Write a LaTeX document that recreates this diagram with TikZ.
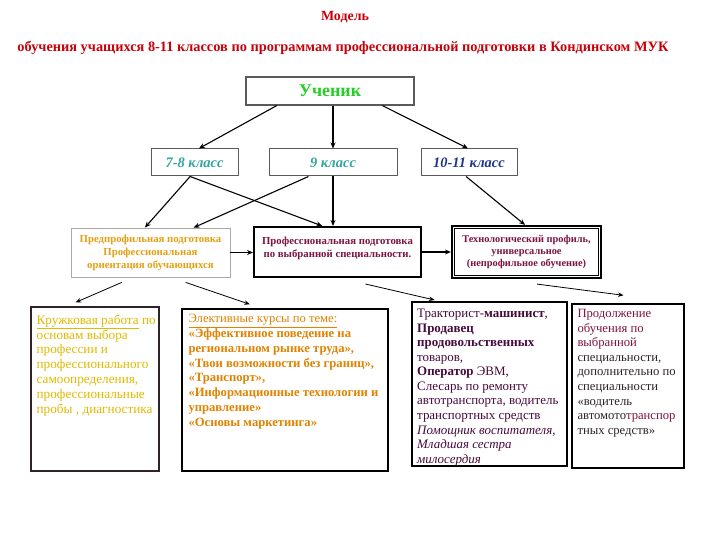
\documentclass[tikz,border=0pt]{standalone}
\usepackage{fontspec}
\setmainfont{Liberation Serif}
\usetikzlibrary{arrows.meta,calc}
\definecolor{titlered}{RGB}{200,0,10}
\definecolor{pupilgreen}{RGB}{40,205,40}
\definecolor{tealc}{RGB}{50,165,160}
\definecolor{darkblue}{RGB}{30,55,140}
\definecolor{goldc}{RGB}{228,160,20}
\definecolor{maroonc}{RGB}{125,20,65}
\definecolor{yellowc}{RGB}{225,185,0}
\definecolor{orangec}{RGB}{225,130,0}
\definecolor{purplec}{RGB}{70,10,60}
\definecolor{darkc}{RGB}{45,35,40}
\definecolor{grayline}{RGB}{90,90,90}
\definecolor{lightgrayline}{RGB}{170,170,170}
\begin{document}
\begin{tikzpicture}[x=1bp,y=-1bp,
  frame/.style={draw=#1, inner sep=0pt},
  arr/.style={-{Stealth[length=6bp,width=5bp]}, line width=1.1bp},
  arrthin/.style={-{Stealth[length=5.5bp,width=4.5bp]}, line width=0.8bp},
  bodytext/.style={anchor=north west, inner sep=0pt, align=left}
]
\useasboundingbox[fill=white] (0,0) rectangle (720,540);

% titles
\node[font=\bfseries\fontsize{14}{16}\selectfont, text=titlered] (title) at (345,17) {Модель};
\node[font=\bfseries\fontsize{14.4}{16}\selectfont, text=titlered] (subtitle) at (343,48)
  {обучения учащихся 8-11 классов по программам профессиональной подготовки в Кондинском МУК};

% level 1
\node[frame=grayline, line width=1.2bp, minimum width=168bp, minimum height=28bp,
  font=\bfseries\fontsize{18}{20}\selectfont, text=pupilgreen] (uc) at (330,91) {Ученик};

% level 2
\node[frame=grayline, line width=1bp, minimum width=87bp, minimum height=27bp,
  font=\bfseries\itshape\fontsize{14.5}{16}\selectfont, text=tealc] (n78) at (194.5,162.5) {7-8 класс};
\node[frame=grayline, line width=1bp, minimum width=128bp, minimum height=27bp,
  font=\bfseries\itshape\fontsize{14.5}{16}\selectfont, text=tealc] (n9) at (333,162.5) {9 класс};
\node[frame=grayline, line width=1bp, minimum width=96bp, minimum height=27bp,
  font=\bfseries\itshape\fontsize{14.5}{16}\selectfont, text=darkblue] (n1011) at (469,162.5) {10-11 класс};

% level 3
\node[frame=lightgrayline, line width=0.8bp, minimum width=159bp, minimum height=49bp] (pre) at (150.5,252.5) {};
\node[inner sep=0pt, align=center, font=\bfseries\fontsize{10.8}{13}\selectfont, text=goldc] (pret) at (pre.center)
  {Предпрофильная подготовка\\Профессиональная\\ориентация обучающихся};

\node[frame=black, line width=2bp, minimum width=167bp, minimum height=50bp] (prof) at (337.5,252) {};
\node[anchor=north, inner sep=0pt, align=center, font=\bfseries\fontsize{10.8}{13.5}\selectfont, text=maroonc] (proft)
  at ($(prof.north)+(0,10.5)$) {Профессиональная подготовка\\по выбранной специальности.};

\node[frame=black, line width=2.2bp, minimum width=149bp, minimum height=52bp] (tech) at (526.5,252) {};
\draw[line width=0.7bp] ($(tech.north west)+(3.5,3.5)$) rectangle ($(tech.south east)+(-3.5,-3.5)$);
\node[inner sep=0pt, align=center, font=\bfseries\fontsize{10.4}{12.5}\selectfont, text=maroonc] (techt) at (tech.center)
  {Технологический профиль,\\универсальное\\(непрофильное обучение)};

% level 4
\node[frame=darkc, line width=1.2bp, minimum width=128bp, minimum height=164bp] (kruz) at (95,389) {};
\node[bodytext, font=\fontsize{13.3}{15}\selectfont, text=yellowc] (kruzt) at ($(kruz.north west)+(6,8)$)
  {\underline{Кружковая работа} по\\основам выбора\\профессии и\\профессионального\\самоопределения,\\профессиональные\\пробы , диагностика};

\node[frame=black, line width=1.4bp, minimum width=206bp, minimum height=162bp] (elek) at (285,390) {};
\node[bodytext, font=\fontsize{12.7}{14.8}\selectfont, text=orangec] (elekt) at ($(elek.north west)+(7,6)$)
  {\underline{Элективные курсы по теме:}\\\bfseries «Эффективное поведение на\\\bfseries региональном рынке труда»,\\\bfseries «Твои возможности без границ»,\\\bfseries «Транспорт»,\\\bfseries «Информационные технологии и\\\bfseries управление»\\\bfseries «Основы маркетинга»};

\node[frame=black, line width=2bp, minimum width=155bp, minimum height=164bp] (trak) at (489.5,384) {};
\node[bodytext, font=\fontsize{13}{14.6}\selectfont, text=purplec] (trakt) at ($(trak.north west)+(6,8)$)
  {Тракторист-\textbf{машинист},\\\textbf{Продавец}\\\textbf{продовольственных}\\товаров,\\\textbf{Оператор} ЭВМ,\\Слесарь по ремонту\\автотранспорта, водитель\\транспортных средств\\\textit{Помощник воспитателя,}\\\textit{Младшая сестра}\\\textit{милосердия}};

\node[frame=black, line width=1.4bp, minimum width=112bp, minimum height=164bp] (prod) at (628,386) {};
\node[bodytext, font=\fontsize{12.7}{14.6}\selectfont, text=darkc] (prodt) at ($(prod.north west)+(6,6)$)
  {\textcolor{maroonc}{Продолжение}\\\textcolor{maroonc}{обучения по}\\\textcolor{maroonc}{выбранной}\\специальности,\\дополнительно по\\специальности\\«водитель\\автомото\textcolor{maroonc}{транспор}\\тных средств»};

% connectors level 1 -> 2
\draw[arr] ($(uc.south west)!0.185!(uc.south east)$) -- ($(n78.north west)!0.55!(n78.north east)$);
\draw[arr] (n9.north |- uc.south) -- (n9.north);
\draw[arr] ($(uc.south west)!0.81!(uc.south east)$) -- ($(n1011.north west)!0.49!(n1011.north east)$);

% connectors level 2 -> 3
\coordinate (a78) at ($(n78.south west)!0.45!(n78.south east)$);
\draw[arr] (a78) -- ($(pre.north west)!0.465!(pre.north east)$);
\draw[arr] (a78) -- ($(prof.north west)!0.41!(prof.north east)$);
\draw[arr] ($(n9.south west)!0.31!(n9.south east)$) -- ($(pre.north west)!0.77!(pre.north east)$);
\draw[arr] (n9.south) -- (n9.south |- prof.north);
\draw[arr] ($(n1011.south west)!0.47!(n1011.south east)$) -- ($(tech.north west)!0.49!(tech.north east)$);

% level 3 horizontal
\draw[arr, line width=1.6bp] (pre.east) -- (pre.east -| prof.west);
\draw[arr, line width=1.6bp] (prof.east) -- (prof.east -| tech.west);

% connectors level 3 -> 4
\draw[arrthin] ($(pre.south west)!0.32!(pre.south east)+(0,5)$) -- ($(kruz.north west)!0.35!(kruz.north east)+(0,-4)$);
\draw[arrthin] ($(pre.south west)!0.72!(pre.south east)+(0,5)$) -- ($(elek.north west)!0.33!(elek.north east)+(0,-4)$);
\draw[arrthin] ($(prof.south west)!0.665!(prof.south east)+(0,6)$) -- ($(trak.north west)!0.15!(trak.north east)+(0,-1)$);
\draw[arrthin] ($(tech.south west)!0.57!(tech.south east)+(0,5)$) -- ($(prod.north west)!0.46!(prod.north east)+(0,-8)$);
\end{tikzpicture}
\end{document}
